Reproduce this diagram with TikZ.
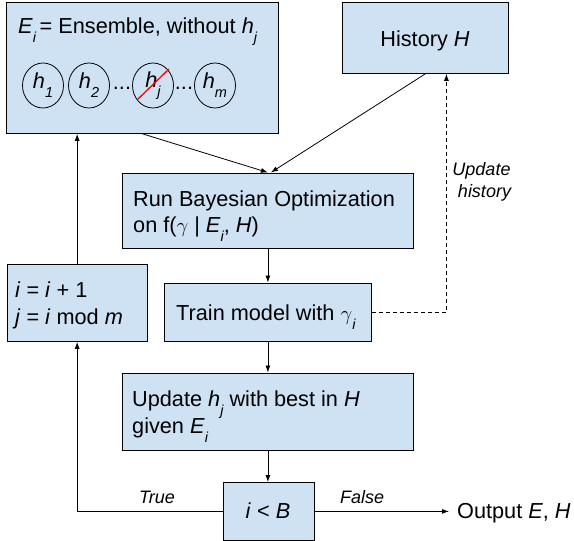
\documentclass[tikz,border=0pt]{standalone}
\usepackage{fontspec}
\setmainfont{Liberation Sans}
\usetikzlibrary{arrows.meta,shapes.geometric,calc}
\definecolor{boxblue}{HTML}{CFE2F3}
\newcommand\sbs[1]{\raisebox{-9pt}{\fontsize{14.5}{14.5}\selectfont\itshape #1}}
\tikzset{
  box/.style={draw=black, fill=boxblue, line width=0.8pt, inner sep=0pt, anchor=north west},
  txt/.style={inner sep=0pt, anchor=base west, font=\fontsize{21.7}{26}\selectfont},
  lbl/.style={inner sep=0pt, anchor=base west, font=\fontsize{18}{21}\selectfont\itshape},
  hcirc/.style={draw=black, line width=0.8pt, ellipse, minimum width=41pt, minimum height=45pt, inner sep=0pt, font=\fontsize{21.7}{26}\selectfont},
  arr/.style={draw=black, line width=0.8pt, -{Latex[length=7pt,width=5pt]}}
}
\begin{document}
\begin{tikzpicture}[x=1pt,y=-1pt]
\useasboundingbox (0,0) rectangle (574,541);
% boxes
\node[box, minimum width=272pt, minimum height=131.5pt] (ens) at (6,1.5) {};
\node[box, minimum width=166pt, minimum height=71.5pt] (hist) at (342,1.5) {};
\node[box, minimum width=291pt, minimum height=75.5pt] (bo) at (122,172.5) {};
\node[box, minimum width=207pt, minimum height=58pt] (train) at (164,282.5) {};
\node[box, minimum width=140.5pt, minimum height=77pt] (ibox) at (6.5,264) {};
\node[box, minimum width=291pt, minimum height=77pt] (upd) at (122,372.5) {};
\node[box, minimum width=90.5pt, minimum height=58pt] (cond) at (223,482) {};
% ensemble content
\node[txt] (enstitle) at (18,33) {\textit{E}\sbs{i}\,= Ensemble, without \textit{h}\sbs{j}};
\node[hcirc] (h1) at (43,85.5) {\textit{h}\sbs{1}};
\node[hcirc] (h2) at (89,85.5) {\textit{h}\sbs{2}};
\node[hcirc] (hj) at (153,85.5) {\textit{h}\sbs{j}};
\node[hcirc] (hm) at (215,85.5) {\textit{h}\sbs{m}};
\node[txt, anchor=base] (dots1) at (122,89) {...};
\node[txt, anchor=base] (dots2) at (184,89) {...};
\draw[red, line width=1.3pt] ($(hj.center)+(-16,14.5)$) -- ($(hj.center)+(16,-16.5)$);
% texts
\node[txt, anchor=base] (histtxt) at (425,46) {History \textit{H}};
\node[txt] (bo1) at (133,206) {Run Bayesian Optimization};
\node[txt] (bo2) at (133,232) {on f($\gamma$ | \textit{E}\sbs{i}, \textit{H})};
\node[txt] (traintxt) at (176,320) {Train model with $\gamma$\sbs{i}};
\node[txt] (i1) at (15,297) {\textit{i} = \textit{i} + 1};
\node[txt] (i2) at (15,324) {\textit{j} = \textit{i} mod \textit{m}};
\node[txt] (u1) at (132,406) {Update \textit{h}\sbs{j} with best in \textit{H}};
\node[txt] (u2) at (132,433) {given \textit{E}\sbs{i}};
\node[txt, anchor=base] (condtxt) at (268,518) {\textit{i} < \textit{B}};
\node[txt] (out) at (457,518) {Output \textit{E}, \textit{H}};
\node[lbl] (truelbl) at (139,503) {True};
\node[lbl] (falselbl) at (340,503) {False};
\node[lbl, anchor=base] (uh1) at (481.5,175) {Update};
\node[lbl, anchor=base] (uh2) at (484.5,197) {history};
% connectors
\draw[arr] (ens.south) -- (bo.north);
\draw[arr] (hist.south) -- ([xshift=3pt]bo.north);
\draw[arr] (ibox.north) -- (ibox.north |- ens.south);
\draw[arr] (bo.south) -- (train.north);
\draw[arr] (train.south) -- (upd.north);
\draw[arr] (upd.south) -- (upd.south |- cond.north);
\draw[arr] (cond.west) -| (ibox.south);
\draw[arr] (cond.east) -- ([xshift=-8pt]cond.east -| out.west);
\draw[arr, dash pattern=on 4pt off 3pt] (train.east) -| ([xshift=21pt]hist.south);
\end{tikzpicture}
\end{document}
